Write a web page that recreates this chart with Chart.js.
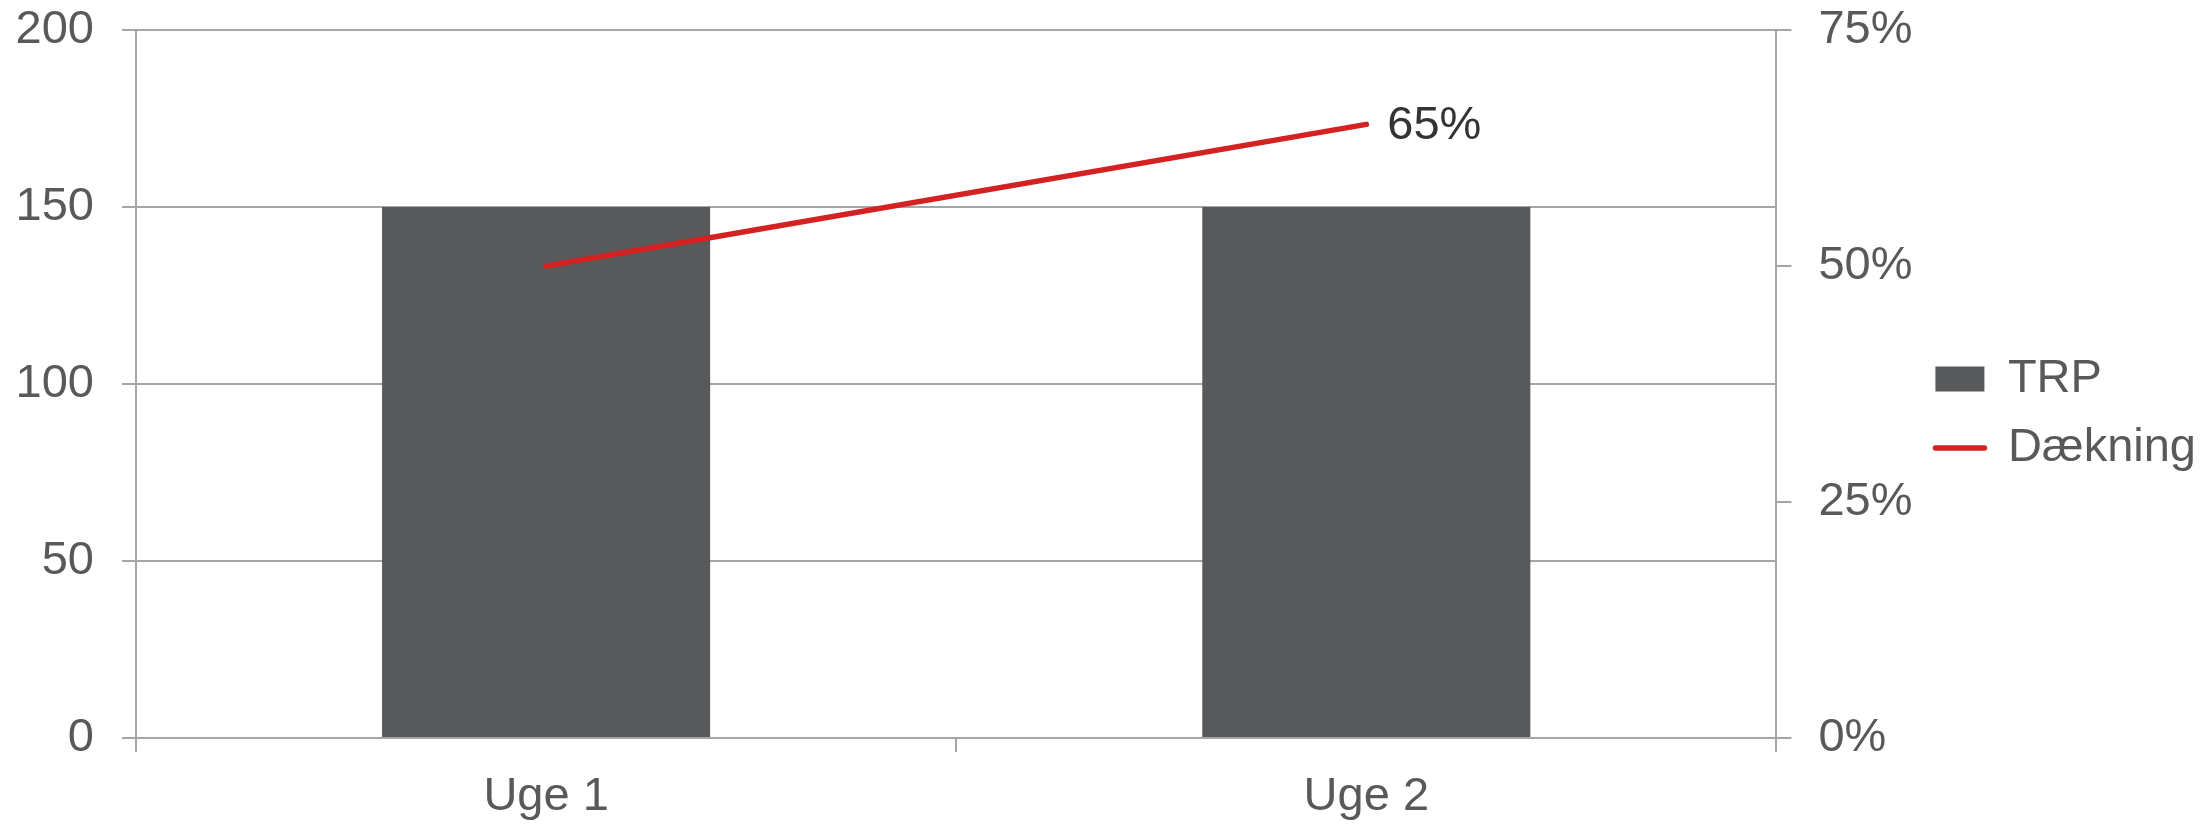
<!DOCTYPE html>
<html>
<head>
<meta charset="utf-8">
<script src="https://cdn.jsdelivr.net/npm/chart.js@4"></script>
<style>
  html, body { margin: 0; padding: 0; background: #ffffff; }
  #wrap { width: 2212px; height: 825px; }
</style>
</head>
<body>
<div id="wrap"><canvas id="c" width="2212" height="825"></canvas></div>
<script>
const categories = ['Uge 1', 'Uge 2'];
const trpValues = [150, 150];
const coverageValues = [50, 65];
const coverageLabelShown = [false, true];
const leftTicks = [0, 50, 100, 150, 200];
const rightTicks = [0, 25, 50, 75];

const FONT = "'Liberation Sans', Arial, Helvetica, sans-serif";
const FSIZE = 47;
const GRAY_TEXT = '#595959';
const AXIS = '#A6A6A6';

const pointLabelPlugin = {
  id: 'pointLabels',
  afterDatasetsDraw(chart) {
    const meta = chart.getDatasetMeta(1);
    const ctx = chart.ctx;
    ctx.save();
    ctx.font = FSIZE + 'px ' + FONT;
    ctx.fillStyle = '#333333';
    ctx.textAlign = 'left';
    ctx.textBaseline = 'middle';
    meta.data.forEach((pt, i) => {
      if (!coverageLabelShown[i]) return;
      ctx.fillText(coverageValues[i] + '%', pt.x + 21, pt.y + 2);
    });
    ctx.restore();
  }
};

new Chart(document.getElementById('c'), {
  data: {
    labels: categories,
    datasets: [
      {
        type: 'bar',
        label: 'TRP',
        data: trpValues,
        backgroundColor: '#58595B',
        borderWidth: 0,
        yAxisID: 'y',
        categoryPercentage: 0.8,
        barPercentage: 0.5,
        order: 1
      },
      {
        type: 'line',
        label: 'Dækning',
        data: coverageValues,
        borderColor: '#D42121',
        backgroundColor: '#D42121',
        borderWidth: 5.5,
        borderCapStyle: 'round',
        pointRadius: 0,
        pointHoverRadius: 0,
        tension: 0,
        yAxisID: 'y2',
        order: 0
      }
    ]
  },
  options: {
    responsive: false,
    animation: false,
    devicePixelRatio: 1,
    layout: { padding: { top: 2, right: 6, bottom: 0, left: 0 } },
    plugins: {
      tooltip: { enabled: false },
      legend: {
        position: 'right',
        align: 'center',
        labels: {
          color: GRAY_TEXT,
          font: { family: FONT, size: FSIZE, lineHeight: 1 },
          padding: 22,
          usePointStyle: true,
          pointStyleWidth: 49,
          boxHeight: 25,
          sort: (a, b) => a.datasetIndex - b.datasetIndex,
          generateLabels(chart) {
            const items = Chart.defaults.plugins.legend.labels.generateLabels(chart);
            items.forEach(it => {
              if (it.datasetIndex === 0) {
                it.pointStyle = 'rect';
                it.fillStyle = '#58595B';
                it.strokeStyle = '#58595B';
                it.lineWidth = 0;
              } else {
                it.pointStyle = 'line';
                it.strokeStyle = '#D42121';
                it.lineWidth = 5.5;
                it.lineCap = 'round';
              }
            });
            return items;
          }
        }
      }
    },
    scales: {
      x: {
        offset: true,
        border: { display: true, color: AXIS, width: 2 },
        grid: { offset: true, drawOnChartArea: false, drawTicks: true, tickLength: 14, color: AXIS, lineWidth: 2 },
        ticks: { color: GRAY_TEXT, font: { family: FONT, size: FSIZE }, padding: 17, maxRotation: 0 },
        afterFit(scale) { scale.height = 87; }
      },
      y: {
        position: 'left',
        min: 0, max: 200,
        afterBuildTicks(scale) { scale.ticks = leftTicks.map(v => ({ value: v })); },
        border: { display: true, color: AXIS, width: 2 },
        grid: { color: AXIS, lineWidth: 2, tickLength: 14, drawTicks: true },
        ticks: { color: GRAY_TEXT, font: { family: FONT, size: FSIZE }, padding: 28 },
        afterFit(scale) { scale.width = 136; scale.paddingTop = 30; }
      },
      y2: {
        position: 'right',
        min: 0, max: 75,
        afterBuildTicks(scale) { scale.ticks = rightTicks.map(v => ({ value: v })); },
        border: { display: true, color: AXIS, width: 2 },
        grid: { drawOnChartArea: false, color: AXIS, lineWidth: 2, tickLength: 15, drawTicks: true },
        ticks: { color: GRAY_TEXT, font: { family: FONT, size: FSIZE }, padding: 27, callback: v => v + '%' },
        afterFit(scale) { scale.width = 137; scale.paddingTop = 30; }
      }
    }
  },
  plugins: [pointLabelPlugin]
});
</script>
</body>
</html>
